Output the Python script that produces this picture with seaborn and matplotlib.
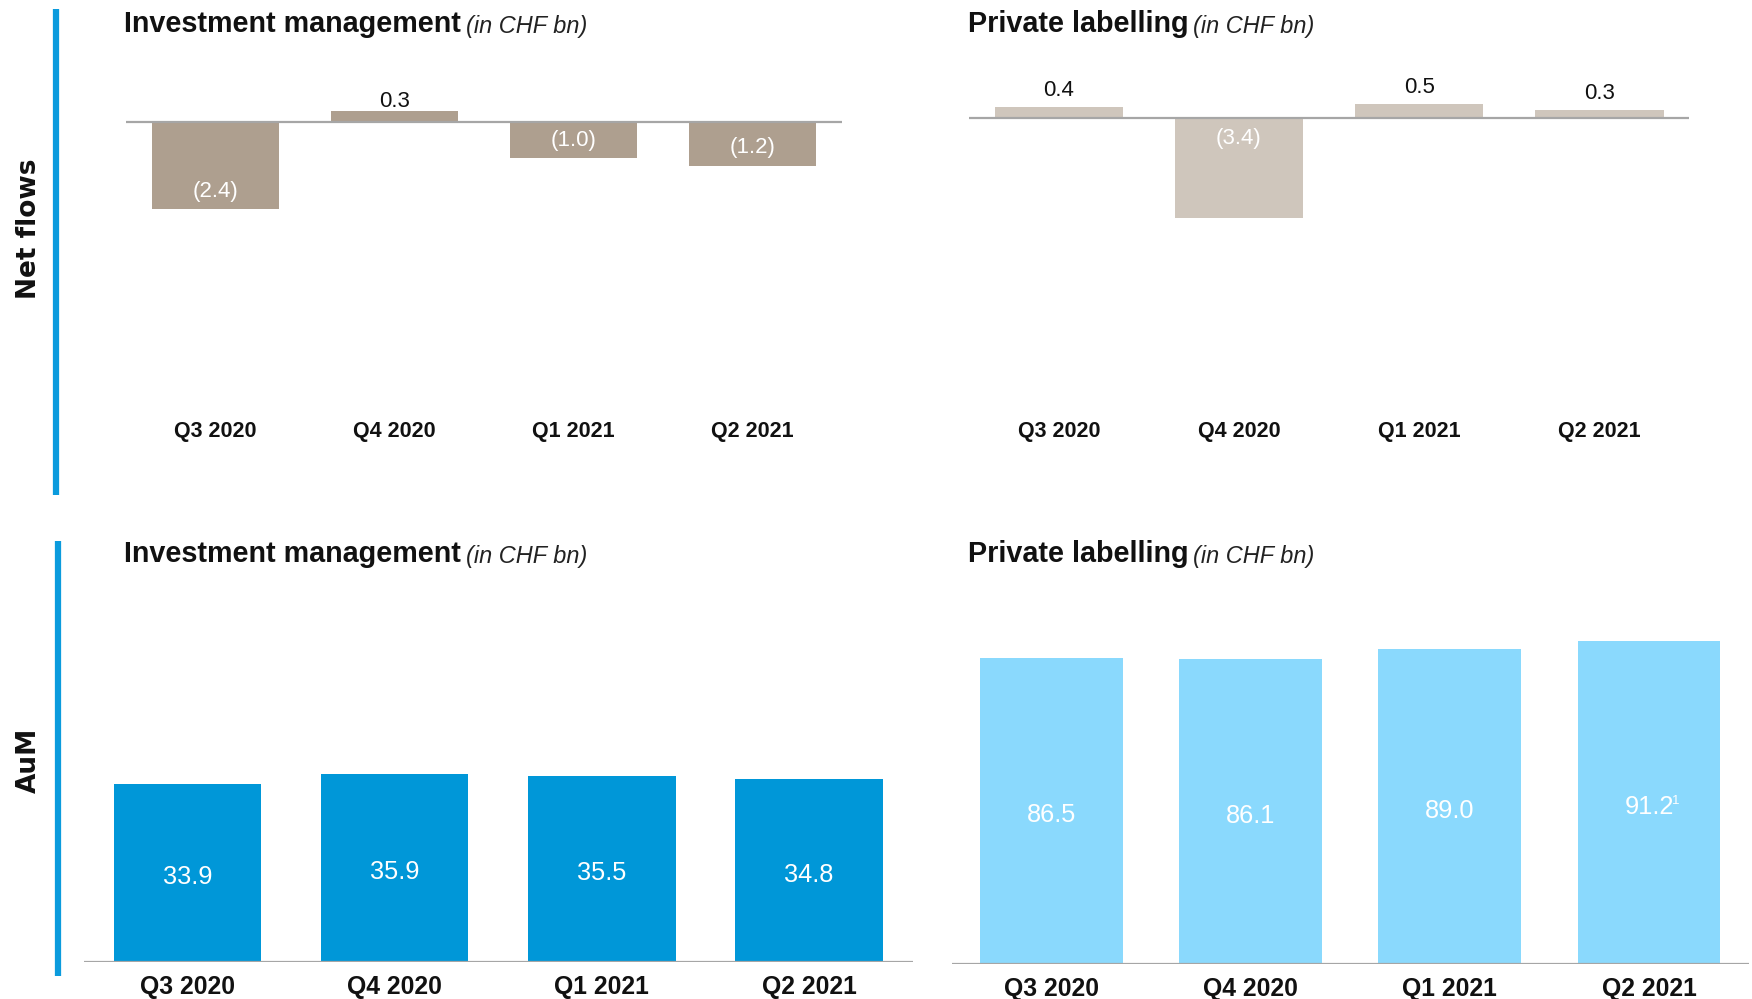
import matplotlib
matplotlib.use("Agg")
import matplotlib.pyplot as plt
from matplotlib.text import Annotation
import seaborn as sns

# ---- data ----
quarters = ["Q3 2020", "Q4 2020", "Q1 2021", "Q2 2021"]
im_net_flows = [-2.4, 0.3, -1.0, -1.2]
pl_net_flows = [0.4, -3.4, 0.5, 0.3]
im_aum = [33.9, 35.9, 35.5, 34.8]
pl_aum = [86.5, 86.1, 89.0, 91.2]
pl_aum_notes = ["", "", "", "1"]

panel_title = ["Investment management", "Private labelling"]
unit_text = "(in CHF bn)"
row_labels = ["Net flows", "AuM"]

# ---- styling ----
sns.set_theme(style="white")
plt.rcParams["font.family"] = ["Liberation Sans", "DejaVu Sans"]

W, H, DPI = 1752, 999, 100
fig = plt.figure(figsize=(W / DPI, H / DPI), dpi=DPI)

C_TAUPE = "#ae9f8f"
C_TAUPE_LIGHT = "#cfc6bc"
C_BLUE = "#0097d8"
C_BLUE_LIGHT = "#8ad9fd"
C_RULE = "#a6a6a6"
C_ACCENT = "#0b9bdd"
C_TEXT = "#111111"


def px2pt(px):
    return px * 72.0 / DPI


def add_axes_px(x0, x1, y0, y1):
    return fig.add_axes([x0 / W, 1 - y1 / H, (x1 - x0) / W, (y1 - y0) / H])


def fmt(v):
    return f"({abs(v):.1f})" if v < 0 else f"{v:.1f}"


def bar_panel(ax, values, color, width, ylim, tick_size, tick_pad):
    sns.barplot(x=quarters, y=values, color=color, saturation=1, width=width,
                linewidth=0, ax=ax)
    ax.set_xlim(-0.5, len(quarters) - 0.5)
    ax.set_ylim(*ylim)
    ax.axhline(0, color=C_RULE, lw=1.6, zorder=3)
    for s in ax.spines.values():
        s.set_visible(False)
    ax.set_yticks([])
    ax.set_xlabel("")
    ax.set_ylabel("")
    ax.tick_params(axis="x", length=0, pad=tick_pad)
    for lab in ax.get_xticklabels():
        lab.set_fontsize(tick_size)
        lab.set_fontweight("bold")
        lab.set_color(C_TEXT)


def label(ax, x, y, text, dy_px, color, size):
    return ax.annotate(text, (x, y), xytext=(0, px2pt(dy_px)), textcoords="offset points",
                       ha="center", va="center", fontsize=size, color=color)


# ---- Net flows: Investment management ----
ax1 = add_axes_px(126, 842, 60, 415)
zero1, scale1 = 122, 36.3
bar_panel(ax1, im_net_flows, C_TAUPE, 0.713,
          (-(415 - zero1) / scale1, (zero1 - 60) / scale1), 15.5, 4)
for i, v in enumerate(im_net_flows):
    if v >= 0:
        label(ax1, i, v, fmt(v), 10, C_TEXT, 16)
    else:
        label(ax1, i, v, fmt(v), 18, "white", 16)

# ---- Net flows: Private labelling ----
ax2 = add_axes_px(968.7, 1689.4, 60, 415)
zero2, scale2 = 118.4, 29.3
bar_panel(ax2, pl_net_flows, C_TAUPE_LIGHT, 0.713,
          (-(415 - zero2) / scale2, (zero2 - 60) / scale2), 15.5, 4)
for i, v in enumerate(pl_net_flows):
    if v >= 0:
        label(ax2, i, v, fmt(v), 16, C_TEXT, 16)
    else:
        label(ax2, i, 0, fmt(v), -20, "white", 16)

# ---- AuM: Investment management ----
ax3 = add_axes_px(83.8, 912.8, 560, 962)
scale3 = 5.25
bar_panel(ax3, im_aum, C_BLUE, 0.712, (0, (962 - 560) / scale3), 17.8, 9.5)
for i, v in enumerate(im_aum):
    label(ax3, i, v / 2, fmt(v), -4, "white", 18.3)

# ---- AuM: Private labelling ----
ax4 = add_axes_px(952, 1748.6, 560, 964.2)
scale4 = 3.54
bar_panel(ax4, pl_aum, C_BLUE_LIGHT, 0.717, (0, (964.2 - 560) / scale4), 17.8, 9.5)
for i, (v, note) in enumerate(zip(pl_aum, pl_aum_notes)):
    t = label(ax4, i, v / 2, fmt(v), -4, "white", 18.3)
    if note:
        ax4.annotate(note, xy=(1, 0.92), xycoords=t, xytext=(-1.5, 1.5),
                     textcoords="offset points", ha="left", va="top",
                     fontsize=9.5, color="white")


# ---- panel titles ----
def panel_heading(x_px, y_px, title):
    bold = fig.text(x_px / W, 1 - y_px / H, title, ha="left", va="center",
                    fontsize=20.7, fontweight="bold", color=C_TEXT)
    unit = Annotation(unit_text, xy=(1, 0), xycoords=bold, xytext=(3.5, 0),
                      textcoords="offset points", ha="left", va="bottom",
                      fontsize=16.9, fontstyle="italic", color="#222222")
    fig.add_artist(unit)


panel_heading(124, 24, panel_title[0])
panel_heading(968, 24, panel_title[1])
panel_heading(124, 554, panel_title[0])
panel_heading(968, 554, panel_title[1])

# ---- row markers ----
fig.add_artist(plt.Line2D([55.9 / W, 55.9 / W], [1 - 9 / H, 1 - 495 / H],
                          color=C_ACCENT, lw=4.5, solid_capstyle="butt"))
fig.add_artist(plt.Line2D([58 / W, 58 / W], [1 - 541 / H, 1 - 976 / H],
                          color=C_ACCENT, lw=4.5, solid_capstyle="butt"))
fig.text(29 / W, 1 - 229 / H, row_labels[0], rotation=90, ha="center", va="center",
         fontsize=19, fontweight="bold", family="DejaVu Sans", color=C_TEXT)
fig.text(29 / W, 1 - 760 / H, row_labels[1], rotation=90, ha="center", va="center",
         fontsize=19, fontweight="bold", family="DejaVu Sans", color=C_TEXT)

fig.savefig("out.png", dpi=DPI, facecolor="white")
